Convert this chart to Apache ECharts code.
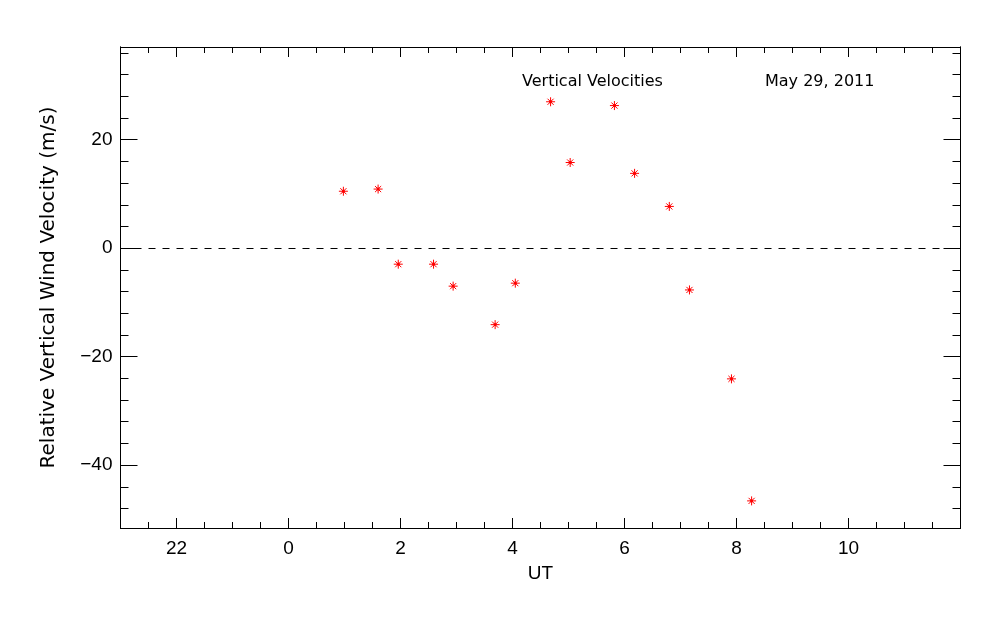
<!DOCTYPE html>
<html>
<head>
<meta charset="utf-8">
<script src="https://cdn.jsdelivr.net/npm/echarts@6/dist/echarts.min.js"></script>
<style>html,body{margin:0;padding:0;background:#fff;}#c{width:1000px;height:625px;}</style>
</head>
<body>
<div id="c"></div>
<script>
// Data (UT hours, 0 = midnight; negative = previous day)
const utHours = [0.98, 1.60, 1.96, 2.59, 2.94, 3.69, 4.05, 4.68, 5.03, 5.82, 6.18, 6.80, 7.16, 7.91, 8.27];
const velocities = [10.5, 10.9, -2.95, -2.95, -7.0, -14.1, -6.45, 27.0, 15.8, 26.3, 13.8, 7.7, -7.7, -24.1, -46.6];
const xMajorTicks = [-2, 0, 2, 4, 6, 8, 10];
const xMinorTicks = [-2.5, -1.5, -1, -0.5, 0.5, 1, 1.5, 2.5, 3, 3.5, 4.5, 5, 5.5, 6.5, 7, 7.5, 8.5, 9, 9.5, 10.5, 11, 11.5];
const yMajorTicks = [-40, -20, 0, 20];
const yMinorTicks = [-48, -44, -36, -32, -28, -24, -16, -12, -8, -4, 4, 8, 12, 16, 24, 28, 32, 36];
const xRange = [-3, 12];
const yRange = [-51.6, 37.1];
const titleText = 'Vertical Velocities';
const dateText = 'May 29, 2011';
const xName = 'UT';
const yName = 'Relative Vertical Wind Velocity (m/s)';

const FONT = 'Liberation Sans';
const WIDEFONT = 'DejaVu Sans';
const black = '#000';
const lineStyle = {color: black, width: 1};

function xAx(pos, ticks, len, labels) {
  return {
    type: 'value', position: pos, min: xRange[0], max: xRange[1],
    axisLine: {show: true, onZero: false, lineStyle},
    axisTick: {show: true, inside: true, length: len, customValues: ticks, lineStyle},
    axisLabel: labels ? {show: true, customValues: ticks, margin: 11, color: black, fontFamily: FONT, fontSize: 19,
      formatter: v => String(((v % 24) + 24) % 24)} : {show: false},
    splitLine: {show: false},
    name: labels ? xName : '', nameLocation: 'middle', nameGap: 36,
    nameTextStyle: {color: black, fontFamily: FONT, fontSize: 19}
  };
}
function yAx(pos, ticks, len, labels) {
  return {
    type: 'value', position: pos, min: yRange[0], max: yRange[1],
    axisLine: {show: true, onZero: false, lineStyle},
    axisTick: {show: true, inside: true, length: len, customValues: ticks, lineStyle},
    axisLabel: labels ? {show: true, customValues: ticks, margin: 8, color: black, fontFamily: FONT, fontSize: 19,
      formatter: v => (v < 0 ? '\u2212' + Math.abs(v) : String(v))} : {show: false},
    splitLine: {show: false},
    name: labels ? yName : '', nameLocation: 'middle', nameGap: 62,
    nameTextStyle: {color: black, fontFamily: WIDEFONT, fontSize: 20}
  };
}

const chart = echarts.init(document.getElementById('c'), null, {renderer: 'canvas'});
chart.setOption({
  animation: false,
  backgroundColor: '#fff',
  grid: {left: 120.5, right: 39.5, top: 47, bottom: 97, containLabel: false},
  title: [
    {text: titleText, left: 517, top: 69, textStyle: {fontFamily: WIDEFONT, fontSize: 16, fontWeight: 'normal', color: black}},
    {text: dateText, left: 760, top: 69, textStyle: {fontFamily: WIDEFONT, fontSize: 16, fontWeight: 'normal', color: black}}
  ],
  xAxis: [
    xAx('bottom', xMajorTicks, 10, true),
    xAx('bottom', xMinorTicks, 6, false),
    xAx('top', xMajorTicks, 10, false),
    xAx('top', xMinorTicks, 6, false)
  ],
  yAxis: [
    yAx('left', yMajorTicks, 17, true),
    yAx('left', yMinorTicks, 8, false),
    yAx('right', yMajorTicks, 17, false),
    yAx('right', yMinorTicks, 8, false)
  ],
  series: [{
    type: 'scatter',
    xAxisIndex: 0, yAxisIndex: 0,
    data: utHours.map((x, i) => [x, velocities[i]]),
    symbol: 'path://M0,5L10,5M5,0L5,10M1.6,1.6L8.4,8.4M8.4,1.6L1.6,8.4M4,4H6V6H4Z',
    symbolSize: 9,
    itemStyle: {color: '#ff0000', borderColor: '#ff0000', borderWidth: 1, opacity: 1},
    markLine: {
      silent: true, symbol: 'none', animation: false,
      label: {show: false},
      lineStyle: {color: black, width: 1, type: [7, 7]},
      data: [{yAxis: 0}]
    }
  }]
});
</script>
</body>
</html>
